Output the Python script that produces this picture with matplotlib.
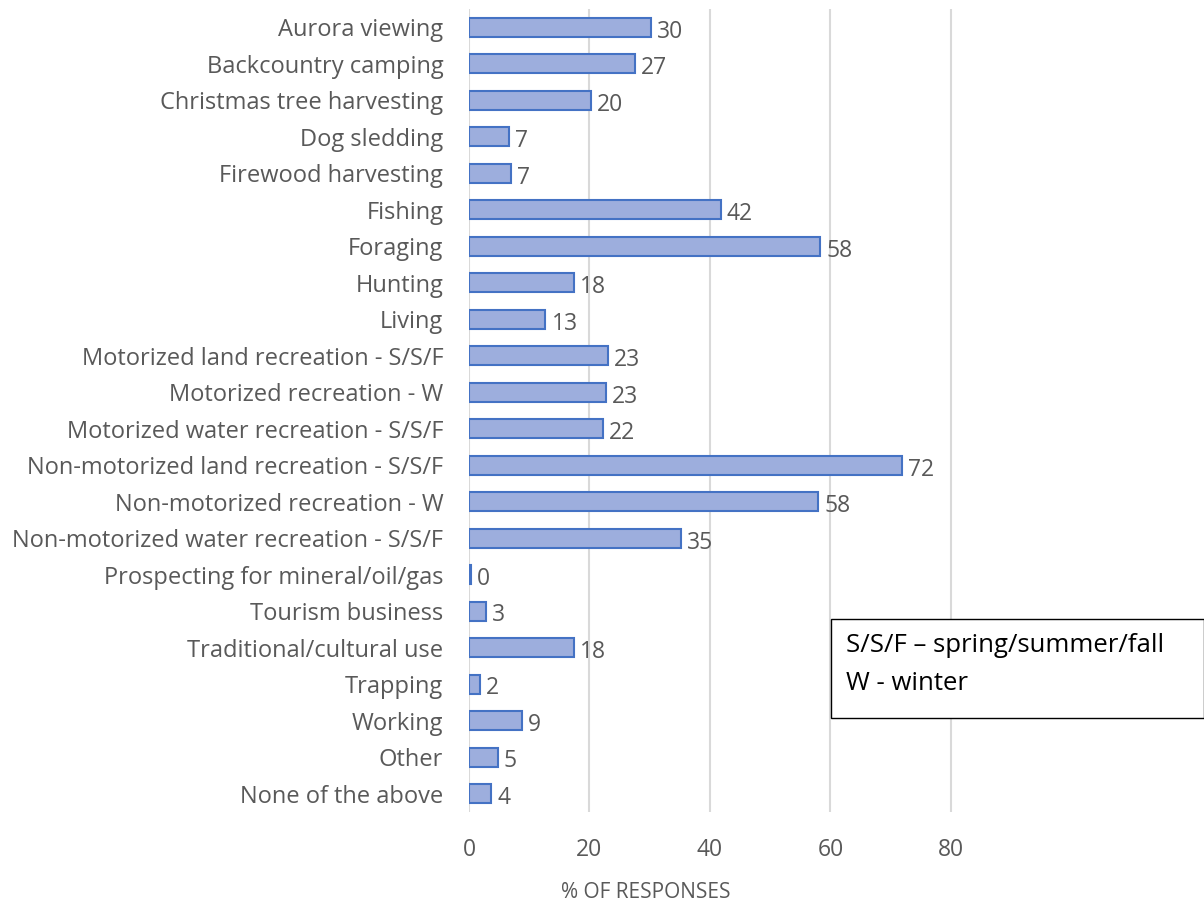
import matplotlib
matplotlib.use("Agg")
import matplotlib.pyplot as plt
from matplotlib.patches import Rectangle

categories = [
    "Aurora viewing", "Backcountry camping", "Christmas tree harvesting",
    "Dog sledding", "Firewood harvesting", "Fishing", "Foraging", "Hunting",
    "Living", "Motorized land recreation - S/S/F", "Motorized recreation - W",
    "Motorized water recreation - S/S/F", "Non-motorized land recreation - S/S/F",
    "Non-motorized recreation - W", "Non-motorized water recreation - S/S/F",
    "Prospecting for mineral/oil/gas", "Tourism business",
    "Traditional/cultural use", "Trapping", "Working", "Other", "None of the above",
]
values = [30.2, 27.5, 20.3, 6.7, 7.0, 41.8, 58.3, 17.5, 12.7, 23.0, 22.8, 22.2,
          71.8, 58.0, 35.2, 0.3, 2.8, 17.5, 1.8, 8.8, 4.8, 3.7]
labels = ["30", "27", "20", "7", "7", "42", "58", "18", "13", "23", "23", "22",
          "72", "58", "35", "0", "3", "18", "2", "9", "5", "4"]
xticks = [0, 20, 40, 60, 80]

plt.rcParams['font.family'] = ['Open Sans', 'DejaVu Sans']
grey = '#595959'

fig = plt.figure(figsize=(12.04, 9.02), dpi=100)
ax = fig.add_axes([0.3895, 0.100, 0.6105, 0.890])

y = list(range(len(categories)))
ax.barh(y, values, height=0.52, color='#9DAEDD', edgecolor='#4472C4',
        linewidth=1.5, zorder=3)
for yi, v, lab in zip(y, values, labels):
    ax.text(v + 1.0, yi + 0.12, lab, va='center', ha='left', fontsize=16.5,
            color=grey)

ax.set_ylim(len(categories) - 0.5, -0.5)
ax.set_xlim(0, 122)
ax.set_yticks(y)
ax.set_yticklabels(categories, fontsize=17, color=grey)
ax.set_xticks(xticks)
ax.set_xticklabels([str(t) for t in xticks], fontsize=16.5, color=grey)
ax.tick_params(axis='both', length=0)
ax.tick_params(axis='x', pad=19)
ax.tick_params(axis='y', pad=18.5)
for s in ax.spines.values():
    s.set_visible(False)
ax.xaxis.grid(True, color='#D9D9D9', linewidth=1.5, zorder=0)
ax.set_axisbelow(True)

fig.text(0.5365, 1 - 898 / 902, "% OF RESPONSES", ha='center', va='baseline',
         fontsize=15, color=grey)

box = Rectangle((831 / 1204, 1 - 718 / 902), (1204 - 831) / 1204, 99 / 902,
                transform=fig.transFigure, facecolor='white', edgecolor='black',
                linewidth=1, zorder=10)
fig.patches.append(box)
fig.text(846 / 1204, 1 - 646 / 902, "S/S/F \u2013 spring/summer/fall",
         fontsize=18.5, color='black', va='center', ha='left', zorder=11)
fig.text(846 / 1204, 1 - 684 / 902, "W - winter",
         fontsize=18.5, color='black', va='center', ha='left', zorder=11)

fig.savefig("out.png", dpi=100)
